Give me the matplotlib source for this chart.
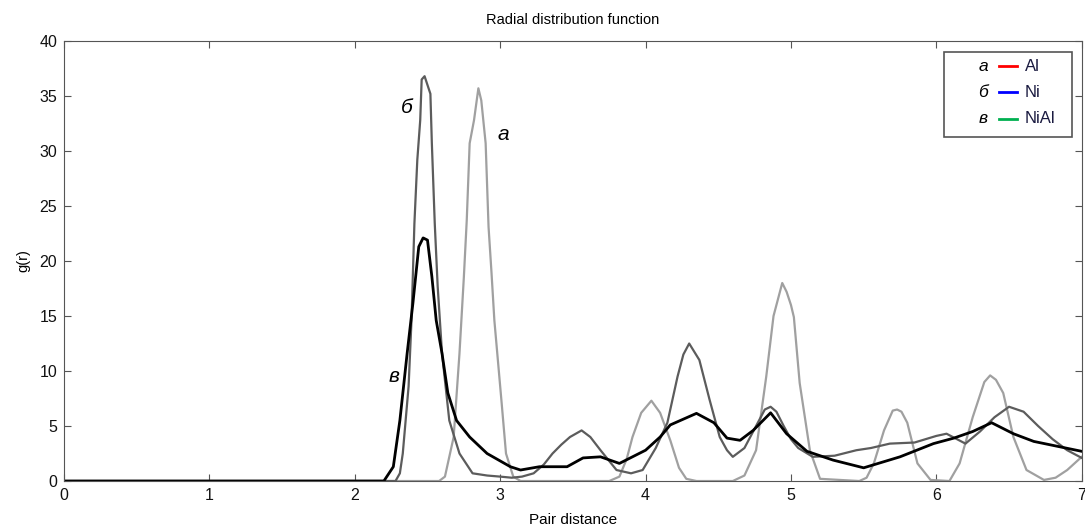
import matplotlib.pyplot as plt
from matplotlib.patches import Rectangle
from matplotlib.lines import Line2D

plt.rcParams['font.family'] = ['Liberation Sans', 'DejaVu Sans']

# curve a - Al
a_x = [0, 2.58, 2.62, 2.68, 2.72, 2.75, 2.77, 2.79, 2.82, 2.85, 2.87, 2.9, 2.92,
       2.94, 2.96, 3.01, 3.04, 3.09, 3.14, 3.75, 3.82, 3.87, 3.91, 3.97, 4.04, 4.1, 4.17, 4.23,
       4.28, 4.35, 4.6, 4.68, 4.76, 4.83, 4.88, 4.94, 4.97, 5.0, 5.02, 5.06, 5.13, 5.2, 5.47,
       5.52, 5.57, 5.64, 5.7, 5.73, 5.76, 5.8, 5.87, 5.96, 6.09, 6.16, 6.25, 6.33, 6.37, 6.41,
       6.46, 6.53, 6.62, 6.74, 6.82, 6.9, 7.0]
a_y = [0, 0, 0.4, 4.0, 11.6, 18.5, 23.7, 30.7, 32.8, 35.7, 34.6, 30.7, 23.1,
       19, 14.6, 7.1, 2.5, 0.4, 0, 0, 0.4, 2.0, 4.0, 6.2, 7.3, 6.2, 3.7, 1.2,
       0.2, 0, 0, 0.5, 2.8, 9.5, 15, 18.0, 17.2, 16, 14.9, 8.9, 2.8, 0.2, 0,
       0.3, 1.6, 4.6, 6.4, 6.5, 6.3, 5.3, 1.6, 0.1, 0, 1.6, 5.8, 9.0, 9.6, 9.2,
       8.0, 4.0, 1.0, 0.1, 0.3, 1.0, 2.2]

# curve b - Ni
b_x = [0, 2.28, 2.31, 2.33, 2.37, 2.39, 2.41, 2.43, 2.45, 2.46, 2.48, 2.52, 2.53, 2.55,
       2.57, 2.6, 2.65, 2.72, 2.81, 2.91, 3.0, 3.08, 3.15, 3.23, 3.3, 3.36, 3.42, 3.48, 3.56,
       3.62, 3.69, 3.8, 3.9, 3.98, 4.07, 4.15, 4.22, 4.26, 4.3, 4.37, 4.44, 4.51, 4.56, 4.6,
       4.68, 4.76, 4.82, 4.86, 4.9, 4.95, 5.0, 5.05, 5.15, 5.3, 5.45, 5.55, 5.68, 5.85, 6.0,
       6.07, 6.2, 6.3, 6.4, 6.5, 6.6, 6.7, 6.8, 6.9, 7.0]
b_y = [0, 0, 0.7, 2.5, 8.6, 14.6, 23.4, 29.2, 32.8, 36.5, 36.8, 35.2, 30.7, 23.4,
       17.7, 11.6, 5.5, 2.5, 0.7, 0.5, 0.4, 0.3, 0.4, 0.7, 1.5, 2.5, 3.3, 4.0, 4.6,
       4.0, 2.8, 1.0, 0.7, 1.0, 3.0, 5.3, 9.5, 11.5, 12.5, 11.0, 7.4, 4.0, 2.8, 2.2,
       3.0, 5.0, 6.5, 6.75, 6.3, 5.0, 3.8, 3.0, 2.2, 2.3, 2.8, 3.0, 3.4, 3.5, 4.1,
       4.3, 3.4, 4.5, 5.8, 6.75, 6.3, 5.0, 3.8, 2.8, 2.1]

# curve c - NiAl
c_x = [0, 2.2, 2.265, 2.31, 2.36, 2.40, 2.44, 2.47, 2.50, 2.53, 2.56, 2.6, 2.64, 2.70,
       2.79, 2.91, 3.07, 3.14, 3.27, 3.46, 3.57, 3.69, 3.82, 4.0, 4.1, 4.17, 4.35, 4.47, 4.56,
       4.65, 4.74, 4.86, 4.97, 5.11, 5.29, 5.5, 5.75, 5.98, 6.12, 6.25, 6.38, 6.53, 6.67, 7.0]
c_y = [0, 0, 1.3, 5.5, 11.6, 16.2, 21.3, 22.1, 21.9, 18.6, 14.6, 11.6, 8.0, 5.5,
       4.0, 2.5, 1.3, 1.0, 1.3, 1.3, 2.1, 2.2, 1.6, 2.8, 4.0, 5.1, 6.15, 5.3, 3.9,
       3.7, 4.6, 6.2, 4.3, 2.7, 1.9, 1.2, 2.2, 3.4, 3.9, 4.5, 5.3, 4.3, 3.6, 2.7]

letters = ['а', 'б', 'в']
names = ['Al', 'Ni', 'NiAl']
legend_colors = ['#ff0000', '#0000ff', '#00b050']

fig = plt.figure(figsize=(10.85, 5.29), dpi=100)
ax = fig.add_axes([0.059, 0.0907, 0.938, 0.8318])

ax.plot(a_x, a_y, color='#a0a0a0', lw=1.6)
ax.plot(b_x, b_y, color='#5c5c5c', lw=1.6)
ax.plot(c_x, c_y, color='black', lw=2.0)

ax.set_xlim(0, 7)
ax.set_ylim(0, 40)
ax.set_xticks(range(0, 8))
ax.set_yticks(range(0, 41, 5))
ax.tick_params(direction='in', top=True, right=True, length=5, labelsize=11.5, colors='#555555',
               labelcolor='#111111', pad=5)
for s in ax.spines.values():
    s.set_color('#555555')

ax.set_title('Radial distribution function', fontsize=10.5, pad=12)
ax.set_xlabel('Pair distance', fontsize=11, labelpad=7)
ax.set_ylabel('g(r)', fontsize=10.5, labelpad=6)

# curve labels
ax.text(2.32, 33.5, 'б', fontsize=15, style='italic')
ax.text(2.98, 31.0, 'а', fontsize=15, style='italic')
ax.text(2.23, 9.0, 'в', fontsize=15, style='italic')

# legend box
ax.add_patch(Rectangle((0.865, 0.782), 0.125, 0.193, transform=ax.transAxes,
                       fill=False, edgecolor='#555555', lw=1.2, zorder=5))
for i in range(3):
    yy = 0.943 - i * 0.06
    ax.text(0.903, yy, letters[i], transform=ax.transAxes, fontsize=12.5, style='italic',
            ha='center', va='center')
    ax.add_line(Line2D([0.919, 0.936], [yy, yy], transform=ax.transAxes,
                       color=legend_colors[i], lw=2))
    ax.text(0.944, yy, names[i], transform=ax.transAxes, fontsize=12, ha='left',
            va='center', color='#1a1a40')

fig.savefig('out.png', dpi=100)
